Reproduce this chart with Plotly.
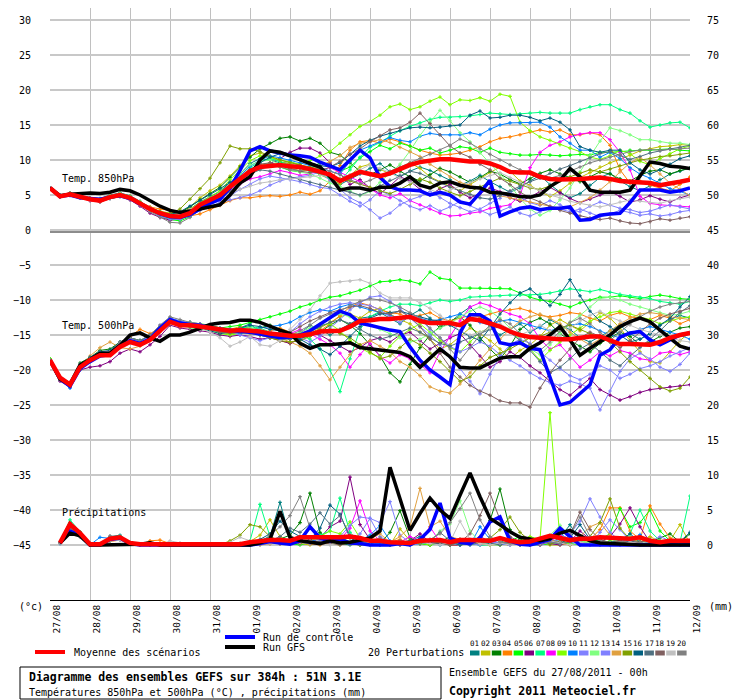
import plotly.graph_objects as go

# time axis (hours from 27/08 00h), 6-hourly
hours = list(range(0, 385, 6))
rain_hours = hours[1:]
day_hours = list(range(0, 385, 24))
day_labels = ['27/08', '28/08', '29/08', '30/08', '31/08', '01/09', '02/09', '03/09', '04/09',
              '05/09', '06/09', '07/09', '08/09', '09/09', '10/09', '11/09', '12/09']
left_ticks = list(range(-45, 31, 5))
right_ticks = list(range(0, 76, 5))
member_names = ['01', '02', '03', '04', '05', '06', '07', '08', '09', '10',
                '11', '12', '13', '14', '15', '16', '17', '18', '19', '20']
member_colors = ['#008080', '#C0C000', '#008000', '#FF8000', '#00FF00', '#800080', '#00FF80',
                 '#FF00FF', '#80FF00', '#0080FF', '#8080FF', '#80FF80', '#8080FF', '#E0A040',
                 '#80A000', '#006080', '#507080', '#806060', '#C0C0C0', '#808080']

# ---- temperature 850 hPa (degC)
t850_mean = [6.0,4.8,5.1,4.7, 4.4,4.2,4.7,5.0, 4.6,3.8,3.0,2.4, 2.0,1.9,2.4,3.6, 4.3,5.0,6.2,7.4,
             8.4,9.0,9.1,9.3, 9.1,9.0,8.7,8.3, 7.9,7.0,7.6,8.3, 8.0,7.7,8.1,8.7, 9.3,9.7,9.9,10.1,
             10.1,9.9,9.8,9.8, 9.5,9.0,8.3,8.2, 8.2,7.6,7.3,7.2, 7.2,7.3,7.4,7.5, 7.3,7.0,6.9,6.8,
             6.7,6.4,6.6,6.9, 7.2]
t850_ctrl = [6.0,4.8,5.0,4.6, 4.5,4.4,4.7,4.9, 4.5,3.8,3.0,2.3, 1.9,1.8,2.2,3.0, 3.8,4.4,6.0,8.5,
             11.3,11.9,11.3,11.0, 10.7,10.6,10.4,9.7, 9.1,8.6,10.0,11.4, 10.3,7.5,6.2,5.7, 5.7,5.6,5.0,5.4,
             5.0,4.0,3.7,5.3, 7.1,2.0,2.6,3.1, 3.3,2.9,3.1,3.1, 3.3,1.4,1.5,2.1, 2.3,2.4,3.9,5.7,
             5.7,5.7,5.4,5.6, 6.0]
t850_gfs = [6.0,4.9,5.1,5.2, 5.3,5.2,5.4,5.8, 5.6,5.0,4.2,3.4, 2.8,2.5,2.7,3.0, 3.2,3.6,5.0,6.7,
            7.6,10.0,11.3,11.1, 10.6,10.0,9.5,9.0, 7.6,5.7,6.0,6.0, 5.7,6.1,6.1,6.7, 7.6,6.4,6.0,6.7,
            6.9,6.4,6.1,6.0, 5.4,5.3,5.0,4.8, 4.7,5.0,6.2,7.1, 8.8,7.6,5.7,5.4, 5.4,5.4,5.7,7.6,
            9.7,9.5,9.1,9.0, 8.8]
t850_members = [
    [6.0,5.0,5.3,4.9, 4.6,4.5,5.0,5.3, 4.9,4.1,3.2,2.6, 2.3,2.4,3.0,4.0, 4.8,5.5,6.8,8.0, 9.5,10.2,10.0,9.6, 9.8,9.2,8.6,8.0, 7.4,6.5,7.2,8.0, 8.8,9.5,8.3,7.6, 8.4,9.0,8.5,7.8, 7.2,6.4,7.0,7.8, 6.9,6.2,5.4,6.0, 7.0,7.8,6.5,5.4, 4.6,5.2,6.4,7.5, 8.1,7.0,6.2,5.6, 6.3,7.2,8.0,8.4, 8.9],
    [6.0,4.7,5.0,4.8, 4.5,4.0,4.6,5.1, 4.8,4.0,3.2,2.7, 2.4,2.6,3.3,4.6, 5.6,6.4,7.7,9.2, 10.6,11.0,10.4,9.8, 9.4,9.0,8.6,7.9, 7.2,6.6,7.8,9.0, 9.4,8.7,8.0,8.9, 9.6,8.8,7.6,6.9, 6.2,5.6,6.5,7.4, 8.2,9.0,8.4,7.0, 6.4,5.5,4.8,5.6, 6.7,7.5,8.2,9.0, 9.6,10.1,10.7,11.3, 11.6,11.9,12.0,12.2, 12.1],
    [6.0,4.9,5.2,4.8, 4.4,4.3,4.8,5.1, 4.7,3.9,3.1,2.5, 2.2,2.5,3.3,4.3, 5.2,6.1,7.5,9.0, 10.4,11.6,12.4,13.1, 13.3,12.7,13.1,12.4, 11.1,10.7,9.6,8.4, 7.9,8.6,9.3,8.4, 7.6,7.0,7.9,8.8, 8.3,7.6,6.8,7.5, 8.4,8.0,7.2,6.6, 7.3,8.1,8.6,8.0, 7.4,6.9,7.6,8.3, 8.0,7.3,7.0,7.8, 8.4,8.6,8.0,8.5, 8.8],
    [6.0,4.8,5.2,4.8, 4.3,4.2,4.6,4.9, 4.6,3.9,3.3,3.0, 2.8,2.6,2.0,2.3, 2.9,3.5,4.2,4.6, 4.6,4.8,4.9,4.8, 5.0,5.4,5.1,5.6, 7.0,9.2,11.4,12.6, 12.8,12.4,13.0,12.6, 12.0,11.4,11.0,10.7, 10.8,11.0,11.4,11.9, 12.6,13.1,13.3,13.6, 14.0,14.3,14.0,14.3, 13.6,13.6,13.9,13.6, 12.1,8.6,6.7,7.0, 6.4,6.0,5.6,6.5, 7.6],
    [6.0,4.7,5.0,4.6, 4.3,4.1,4.5,4.8, 4.4,3.6,2.8,2.0, 1.5,1.3,1.9,2.9, 3.9,4.6,5.5,7.0, 8.3,9.2,9.6,9.0, 8.5,8.3,8.8,9.6, 9.4,8.4,9.0,10.3, 11.2,12.1,11.6,12.4, 12.0,11.4,11.7,11.0, 11.4,11.9,11.7,11.1, 11.7,11.1,10.9,10.7, 10.7,10.8,10.7,10.6, 10.7,10.8,10.7,11.1, 11.1,11.2,11.4,11.4, 11.4,11.5,11.6,11.4, 11.3],
    [6.0,4.9,5.0,4.6, 4.2,4.0,4.5,4.8, 4.3,3.4,2.4,1.8, 1.4,1.6,2.5,3.5, 4.6,5.0,6.0,7.2, 8.0,8.8,9.5,10.2, 11.1,11.7,11.7,11.0, 9.6,8.0,6.5,7.2, 6.0,5.2,6.3,7.6, 7.0,5.8,5.0,5.9, 6.5,5.4,4.6,5.2, 6.0,5.5,4.6,4.1, 4.7,5.5,6.1,5.3, 4.5,3.9,4.4,5.0, 5.5,4.8,4.0,4.3, 4.9,4.4,4.0,4.6, 5.0],
    [6.0,4.8,5.0,4.7, 4.4,4.1,4.6,4.9, 4.5,3.7,2.8,2.1, 1.6,1.5,2.2,3.1, 4.2,4.9,6.0,7.5, 8.9,9.8,10.2,9.8, 9.2,8.8,8.4,8.0, 7.3,7.0,8.6,10.4, 11.8,12.5,13.4,14.2, 14.8,15.3,15.8,16.1, 16.1,16.2,16.3,16.5, 16.7,16.6,16.5,16.6, 16.7,16.8,16.7,16.7, 16.7,17.2,17.6,17.9, 17.9,17.2,16.7,15.6, 14.7,15.0,15.3,15.4, 14.6],
    [6.0,4.8,5.1,4.8, 4.5,4.3,4.8,5.1, 4.6,3.8,3.0,2.3, 1.9,2.0,2.6,3.4, 4.2,4.8,5.8,6.6, 7.3,7.6,8.0,8.5, 8.2,7.8,8.0,8.6, 8.9,8.2,7.5,6.9, 5.9,5.0,4.6,5.2, 4.2,3.6,3.0,2.4, 2.0,2.1,2.4,2.6, 3.1,3.3,3.6,5.0, 8.9,11.1,12.1,12.6, 13.3,13.7,13.9,13.9, 12.9,11.1,8.6,4.8, 3.8,3.6,3.5,3.4, 3.3],
    [6.0,4.9,5.1,4.8, 4.5,4.3,4.8,5.2, 4.8,4.0,3.2,2.6, 2.3,2.4,3.0,3.9, 4.7,5.6,7.2,8.6, 9.9,10.6,10.4,10.0, 9.7,9.4,9.9,10.6, 11.2,12.4,13.6,14.8, 15.5,16.4,17.6,18.0, 17.2,17.6,18.4,19.0, 17.9,18.6,18.5,18.9, 18.4,19.4,19.1,15.4, 14.2,13.3,12.8,12.2, 11.7,11.2,10.4,10.1, 10.6,11.4,10.9,9.8, 9.3,10.2,10.9,11.6, 12.0],
    [6.0,4.8,5.0,4.7, 4.4,4.2,4.6,5.0, 4.7,3.9,3.0,2.5, 2.1,2.2,2.8,3.6, 4.4,5.2,6.4,7.8, 9.1,10.0,10.6,10.3, 10.0,9.6,9.2,9.0, 8.4,8.0,9.8,11.4, 12.0,12.6,13.2,12.8, 12.6,13.4,13.8,13.6, 13.6,13.6,13.9,13.6, 14.4,15.0,15.3,15.3, 15.3,15.4,14.7,13.3, 12.4,11.4,11.4,10.4, 11.1,10.2,8.9,8.0, 7.4,6.6,5.9,5.5, 5.0],
    [6.0,4.7,4.9,4.6, 4.3,4.1,4.5,4.8, 4.4,3.6,2.8,2.2, 1.8,1.7,2.0,2.8, 3.4,3.9,4.3,4.6, 5.0,5.6,6.4,7.0, 7.4,7.6,7.8,8.3, 7.0,5.8,4.6,3.9, 2.9,1.7,2.4,3.6, 4.3,4.8,5.5,4.6, 3.8,3.2,2.6,3.0, 3.8,4.5,5.4,4.7, 3.9,3.5,4.2,3.6, 2.9,2.6,3.4,4.0, 3.6,3.1,2.9,2.5, 2.7,3.2,3.6,3.3, 3.0],
    [6.0,4.8,5.1,4.9, 4.6,4.4,4.9,5.2, 4.8,4.0,3.1,2.4, 2.0,2.2,2.9,3.8, 4.6,5.3,6.6,8.0, 9.3,9.8,10.0,9.4, 8.6,8.3,8.0,7.4, 6.7,6.2,5.6,4.9, 5.5,6.8,8.0,9.4, 11.3,13.5,15.4,17.1, 15.6,13.9,12.6,11.0, 9.5,8.0,6.4,4.5, 3.0,2.1,2.8,4.3, 6.0,8.3,10.6,12.7, 14.6,14.2,13.6,12.9, 12.9,12.6,12.4,12.4, 12.2],
    [6.0,4.7,5.0,4.6, 4.3,4.1,4.6,4.9, 4.5,3.7,2.8,2.0, 1.6,1.5,2.1,3.0, 3.8,4.3,4.9,5.8, 6.5,7.3,7.7,7.5, 7.2,6.9,6.5,6.1, 5.9,5.0,4.1,3.4, 4.3,5.6,5.0,4.2, 3.4,2.9,3.5,2.7, 3.3,4.1,3.5,2.8, 2.2,2.7,3.3,2.4, 2.0,2.6,3.4,3.0, 2.6,3.0,2.4,1.9, 2.3,2.8,2.5,2.1, 2.3,2.0,2.2,2.6, 2.8],
    [6.0,4.9,5.2,4.9, 4.6,4.3,4.8,5.1, 4.7,3.9,3.1,2.6, 2.3,2.4,3.0,3.8, 4.5,5.2,6.2,7.4, 8.5,9.3,9.6,9.2, 8.8,8.5,8.6,9.1, 9.8,10.6,11.8,12.4, 12.6,12.9,12.5,11.8, 11.2,10.5,9.4,8.5, 7.6,6.8,6.4,5.9, 5.4,4.9,4.6,4.3, 4.0,3.6,3.4,3.1, 3.3,3.9,4.6,5.7, 6.9,8.3,9.6,10.4, 9.3,8.0,6.7,5.8, 4.9],
    [6.0,4.9,5.1,4.8, 4.5,4.3,4.7,5.0, 4.6,3.8,3.0,2.6, 2.3,3.0,4.4,5.9, 7.4,9.6,12.0,11.6, 11.6,11.2,10.5,10.0, 9.6,9.3,9.0,8.7, 8.0,7.3,7.0,6.6, 6.1,5.6,5.2,5.8, 6.5,7.3,6.8,6.0, 5.4,4.9,5.5,6.2, 6.8,7.4,7.0,6.5, 6.0,5.8,6.3,7.0, 7.6,8.1,8.6,8.3, 8.7,9.2,9.6,10.0, 10.2,10.5,10.6,10.8, 11.0],
    [6.0,4.8,5.0,4.7, 4.4,4.2,4.7,5.0, 4.6,3.8,3.0,2.5, 2.2,2.6,3.4,4.2, 5.0,5.9,6.8,7.3, 8.6,9.6,10.4,10.9, 10.8,10.2,9.6,9.2, 9.0,9.6,10.8,12.0, 12.8,13.4,13.8,14.2, 14.6,14.7,14.6,14.7, 14.9,15.0,16.4,17.0, 16.0,16.1,16.4,16.4, 16.1,15.6,16.0,15.4, 14.3,11.9,11.4,11.1, 11.4,11.4,9.6,8.6, 8.0,8.6,9.4,10.2, 10.6],
    [6.0,4.8,5.1,4.7, 4.4,4.2,4.7,5.0, 4.7,3.9,3.1,2.5, 2.1,2.0,2.6,3.5, 4.4,5.0,5.9,7.0, 8.0,8.6,8.4,8.0, 7.6,7.2,6.8,6.5, 6.1,5.7,5.4,5.0, 5.6,6.3,7.1,7.8, 8.4,8.1,7.5,6.8, 6.1,5.6,5.1,4.6, 4.4,4.9,5.6,6.3, 6.9,7.4,8.1,8.7, 9.2,9.8,10.3,10.9, 11.2,10.6,10.1,10.5, 11.0,11.3,11.6,11.8, 12.1],
    [6.0,4.9,5.1,4.8, 4.5,4.3,4.7,5.0, 4.6,3.8,3.0,2.4, 2.0,1.9,2.6,3.6, 4.4,5.0,6.0,7.4, 8.6,9.4,9.6,9.2, 8.8,8.4,8.2,8.4, 9.0,9.8,10.8,11.6, 12.6,13.5,14.3,14.6, 15.4,16.7,15.2,13.6, 12.0,11.0,10.4,9.4, 8.6,7.4,6.5,5.4, 4.6,4.0,3.3,2.8, 2.4,2.0,1.7,1.5, 1.7,1.3,1.0,0.9, 1.2,1.6,1.4,1.7, 1.9],
    [6.0,4.8,5.0,4.6, 4.3,4.1,4.6,4.9, 4.5,3.7,2.9,2.4, 2.1,2.3,2.9,3.6, 4.2,4.7,5.3,5.8, 6.3,6.7,6.9,7.2, 7.3,7.4,7.6,7.8, 7.6,7.2,7.9,8.6, 9.3,8.8,8.2,7.4, 6.8,6.3,5.8,5.2, 5.7,6.3,6.8,7.3, 7.8,8.2,7.5,6.8, 6.2,5.6,5.0,4.6, 4.1,3.8,3.5,3.3, 3.6,4.0,4.3,4.1, 3.9,3.8,4.2,4.5, 4.7],
    [6.0,4.9,5.1,4.7, 4.4,4.2,4.6,4.9, 4.4,3.6,2.6,1.8, 1.1,1.0,1.8,2.9, 3.8,4.6,5.5,6.6, 7.8,8.8,9.2,9.0, 8.6,8.5,8.7,8.9, 8.4,7.9,7.2,6.6, 7.1,7.8,8.4,9.0, 9.6,10.2,10.8,11.4, 12.1,13.0,12.4,11.6, 10.8,10.0,9.3,8.6, 8.2,7.8,7.4,7.8, 8.4,9.0,9.6,10.0, 10.4,10.8,11.2,11.4, 11.5,11.4,11.5,11.6, 11.7],
]

# ---- temperature 500 hPa (degC)
t500_mean = [-18.6,-21.1,-22.1,-19.6, -18.6,-17.9,-17.9,-16.7, -16.0,-16.4,-15.7,-14.3, -13.1,-13.6,-13.6,-13.8,
             -14.0,-14.3,-14.4,-14.3, -14.4,-14.5,-14.8,-15.0, -15.1,-15.1,-14.9,-14.5, -14.4,-14.4,-13.8,-13.0,
             -12.9,-12.7,-12.7,-12.6, -12.4,-13.0,-13.3,-13.3, -13.3,-13.6,-12.7,-12.9, -13.3,-13.8,-14.5,-15.0,
             -15.3,-15.4,-15.6,-15.6, -15.6,-15.4,-15.2,-15.2, -15.7,-16.3,-16.3,-16.3, -16.4,-16.0,-15.4,-15.0, -14.7]
t500_ctrl = [-18.6,-21.3,-22.3,-19.8, -18.8,-18.0,-17.8,-16.5, -15.8,-16.2,-15.6,-14.0, -12.8,-13.3,-13.5,-13.6,
             -14.0,-14.2,-14.3,-14.5, -14.6,-14.9,-15.2,-15.4, -15.3,-15.0,-14.4,-13.5, -12.6,-11.6,-12.1,-13.3,
             -13.6,-14.0,-14.3,-14.5, -16.7,-18.6,-20.0,-21.0, -22.1,-14.7,-12.1,-12.1, -13.0,-16.1,-16.4,-16.1,
             -16.9,-17.1,-21.0,-25.0, -24.6,-23.3,-22.1,-17.9, -17.1,-15.3,-14.7,-14.5, -15.7,-16.4,-15.7,-15.0, -14.7]
t500_gfs = [-18.6,-21.3,-22.0,-19.3, -18.5,-17.6,-17.6,-16.5, -15.0,-14.7,-15.4,-15.9, -15.0,-15.0,-14.6,-14.0,
            -13.5,-13.3,-13.2,-12.9, -12.9,-13.2,-13.8,-14.3, -14.8,-16.2,-16.9,-16.4, -16.4,-16.3,-16.1,-16.8,
            -17.0,-17.2,-17.3,-17.5, -18.1,-19.6,-18.3,-17.0, -18.1,-19.6,-19.7,-19.7, -19.0,-18.3,-18.1,-18.1,
            -16.9,-16.1,-15.0,-13.8, -15.7,-17.9,-16.9,-16.0, -15.0,-13.8,-13.1,-12.6, -13.1,-14.3,-15.4,-16.6, -17.0]
t500_members = [
    [-18.4,-21.0,-22.4,-19.4, -18.4,-17.6,-17.5,-16.2, -15.6,-16.0,-15.4,-14.0, -12.8,-13.3,-13.2,-13.6, -13.6,-14.0,-14.6,-14.0, -13.4,-14.6,-15.2,-14.6, -15.6,-14.8,-13.6,-14.2, -15.0,-14.2,-13.4,-12.6, -12.4,-11.8,-12.6,-13.4, -12.2,-11.4,-12.6,-14.0, -13.2,-12.0,-11.0,-12.4, -13.8,-15.0,-14.2,-13.4, -14.6,-13.8,-12.8,-13.6, -14.2,-15.4,-16.0,-15.2, -14.4,-13.6,-14.8,-15.6, -14.8,-13.6,-12.8,-12.2, -12.6],
    [-18.6,-21.2,-22.0,-19.2, -18.2,-17.4,-17.6,-16.4, -15.6,-16.2,-15.4,-14.2, -13.0,-13.4,-13.8,-14.0, -14.2,-14.6,-14.2,-13.8, -14.0,-14.6,-15.2,-15.8, -16.2,-15.4,-14.8,-14.0, -13.2,-12.4,-12.0,-12.6, -11.6,-11.2,-12.0,-12.8, -13.4,-14.6,-15.6,-17.0, -16.4,-15.2,-14.0,-14.8, -15.8,-17.0,-18.4,-17.2, -16.4,-15.2,-13.6,-12.8, -13.6,-14.4,-13.2,-11.8, -12.6,-14.0,-15.8,-17.4, -18.8,-19.0,-17.4,-15.8, -14.6],
    [-18.8,-21.4,-22.2,-19.0, -18.2,-17.2,-17.0,-16.0, -15.4,-15.8,-15.2,-13.8, -12.6,-13.2,-13.4,-13.6, -14.0,-14.4,-14.8,-14.6, -14.2,-14.0,-13.6,-14.4, -15.2,-15.6,-15.0,-14.6, -13.6,-12.8,-13.6,-14.8, -16.4,-18.0,-20.4,-21.7, -19.2,-16.8,-15.0,-13.8, -13.0,-12.4,-13.6,-15.4, -17.0,-18.4,-16.6,-14.2, -13.2,-12.6,-13.4,-14.8, -15.8,-16.6,-17.4,-16.2, -15.4,-14.6,-15.2,-16.4, -16.0,-15.2,-14.6,-14.0, -13.8],
    [-18.6,-21.0,-22.0,-19.6, -18.4,-17.6,-17.8,-16.6, -15.2,-14.2,-14.8,-14.0, -13.0,-13.6,-13.4,-13.8, -14.2,-14.6,-14.6,-14.2, -14.4,-14.8,-14.4,-14.0, -14.6,-15.0,-14.8,-14.4, -13.4,-12.2,-11.0,-10.4, -10.8,-11.4,-11.8,-12.0, -12.6,-12.2,-11.8,-12.6, -13.0,-12.6,-12.2,-12.4, -12.0,-11.6,-11.4,-11.2, -11.6,-12.2,-12.4,-12.2, -11.8,-12.0,-12.6,-13.0, -12.2,-11.8,-12.4,-12.6, -12.8,-12.2,-12.6,-13.4, -12.8],
    [-18.4,-21.2,-22.0,-19.4, -18.4,-17.8,-17.6,-16.4, -15.8,-16.0,-15.4,-14.0, -13.0,-13.4,-13.2,-13.4, -13.6,-14.0,-13.8,-13.6, -13.2,-12.8,-12.4,-12.0, -11.6,-11.0,-10.6,-10.0, -9.6,-9.4,-9.0,-8.6, -8.0,-7.4,-7.3,-7.1, -7.3,-7.7,-6.0,-6.9, -7.1,-8.3,-8.3,-8.3, -8.3,-8.3,-8.4,-9.0, -9.6,-10.0,-10.2,-10.6, -11.0,-10.4,-10.0,-9.6, -9.6,-9.4,-9.6,-9.8, -9.5,-9.3,-9.5,-9.8, -9.9],
    [-18.8,-21.6,-22.4,-20.0, -19.6,-19.4,-18.8,-17.6, -17.0,-17.4,-16.4,-15.2, -13.6,-14.0,-14.2,-14.4, -14.6,-15.0,-15.2,-15.0, -15.2,-15.6,-15.4,-15.8, -16.2,-15.6,-14.8,-15.0, -15.8,-16.6,-17.4,-16.8, -15.8,-15.4,-16.0,-15.0, -14.6,-15.8,-17.0,-16.2, -15.4,-14.8,-16.4,-18.0, -19.6,-18.8,-17.4,-18.2, -19.4,-20.4,-21.6,-22.8, -23.6,-22.4,-21.2,-22.8, -23.6,-24.3,-23.8,-23.2, -22.8,-22.6,-22.4,-22.3, -22.1],
    [-18.6,-21.2,-22.2,-19.6, -18.6,-17.8,-17.6,-16.4, -15.8,-16.2,-15.4,-14.2, -13.2,-13.6,-13.8,-14.0, -14.2,-14.4,-14.4,-14.0, -13.8,-14.0,-14.6,-15.4, -15.4,-15.0,-15.6,-17.0, -20.0,-23.1,-18.4,-14.2, -12.4,-11.6,-11.0,-10.6, -10.6,-10.8,-10.4,-10.0, -10.2,-10.0,-9.6,-9.5, -9.4,-9.4,-9.3,-9.3, -9.3,-9.2,-9.0,-8.7, -8.4,-8.6,-8.8,-8.5, -8.9,-9.2,-9.4,-9.6, -9.8,-10.2,-10.4,-10.6, -10.2],
    [-18.6,-21.0,-21.8,-19.4, -18.4,-17.6,-17.4,-16.2, -15.6,-16.0,-15.2,-13.8, -12.8,-13.2,-13.4,-13.6, -13.8,-14.2,-14.4,-14.2, -14.4,-14.6,-14.6,-15.0, -14.8,-14.2,-14.8,-15.6, -16.4,-17.6,-19.6,-17.8, -16.2,-18.1,-19.0,-17.8, -18.4,-19.2,-20.4,-17.4, -15.2,-13.0,-11.0,-10.4, -10.8,-11.4,-12.0,-12.4, -13.4,-15.6,-17.0,-16.4, -18.0,-19.6,-18.6,-17.4, -18.0,-17.2,-17.6,-18.4, -18.6,-17.6,-17.4,-17.8, -17.4],
    [-18.4,-21.0,-22.0,-19.6, -18.6,-17.8,-17.8,-16.6, -15.8,-16.2,-15.6,-14.2, -13.0,-13.4,-13.6,-14.0, -14.4,-14.8,-15.0,-14.8, -14.6,-15.0,-15.4,-15.6, -15.4,-15.2,-14.6,-13.6, -13.4,-14.4,-15.8,-16.8, -17.6,-18.2,-16.6,-15.2, -14.2,-13.4,-14.6,-15.8, -16.8,-17.4,-16.0,-14.6, -14.0,-13.6,-14.4,-15.6, -17.0,-18.6,-17.2,-16.0, -15.0,-14.0,-13.0,-12.4, -11.8,-11.6,-12.0,-12.4, -12.8,-13.4,-13.0,-12.6, -12.4],
    [-18.6,-21.4,-22.6,-20.0, -18.8,-17.8,-17.4,-16.2, -15.6,-16.0,-15.2,-13.8, -12.6,-13.0,-13.4,-13.8, -14.0,-14.2,-14.6,-14.8, -14.4,-14.0,-13.8,-13.6, -13.2,-12.4,-11.8,-11.4, -11.6,-11.0,-10.6,-11.0, -11.4,-11.8,-12.2,-12.6, -12.4,-12.6,-13.0,-12.8, -12.4,-12.0,-12.6,-13.2, -13.6,-13.0,-12.8,-13.2, -13.6,-14.0,-14.4,-14.0, -13.6,-13.4,-13.8,-14.4, -15.0,-15.4,-14.8,-14.2, -13.8,-14.2,-14.6,-15.0, -15.6],
    [-18.6,-21.0,-22.0,-19.4, -18.4,-17.6,-17.6,-16.4, -15.8,-16.2,-15.4,-14.0, -12.8,-13.2,-13.6,-13.4, -13.8,-14.0,-14.2,-14.4, -14.6,-14.4,-15.0,-15.4, -14.6,-13.4,-12.4,-11.6, -11.0,-10.6,-10.4,-10.6, -10.8,-11.4,-12.4,-13.2, -12.2,-12.6,-14.2,-15.4, -16.6,-17.4,-16.8,-16.0, -16.6,-17.8,-18.6,-19.4, -20.4,-21.2,-21.8,-22.2, -21.6,-22.0,-22.6,-25.7, -23.0,-20.2,-18.4,-17.6, -18.4,-19.6,-20.2,-19.2, -17.6],
    [-18.6,-21.2,-22.2,-19.8, -18.8,-18.0,-17.8,-16.6, -15.8,-16.4,-15.6,-14.4, -13.2,-13.6,-14.0,-14.2, -14.4,-14.6,-14.8,-14.4, -14.0,-14.2,-14.6,-15.0, -15.2,-14.6,-14.0,-13.4, -12.6,-12.0,-12.4,-13.0, -13.6,-14.2,-14.8,-15.4, -16.0,-15.6,-14.8,-14.0, -13.4,-12.4,-11.6,-11.0, -11.6,-12.6,-14.0,-15.6, -17.0,-17.8,-16.4,-14.8, -13.2,-12.2,-11.0,-9.8, -9.6,-10.0,-10.6,-11.0, -11.4,-11.8,-12.2,-12.0, -11.6],
    [-18.6,-21.0,-21.8,-19.2, -18.2,-17.4,-17.4,-16.2, -15.6,-16.0,-15.2,-13.6, -12.6,-13.0,-13.2,-13.4, -13.8,-14.2,-14.6,-15.0, -15.4,-15.8,-15.4,-15.0, -14.8,-15.4,-16.0,-15.2, -14.0,-12.8,-11.4,-10.4, -9.6,-9.4,-10.2,-11.2, -12.6,-13.8,-15.0,-16.4, -18.2,-19.8,-21.6,-23.4, -20.6,-18.0,-16.4,-15.6, -16.2,-17.4,-18.6,-19.8, -20.8,-21.4,-20.6,-19.4, -20.0,-21.2,-20.6,-19.8, -19.4,-18.8,-18.0,-17.4, -16.8],
    [-18.6,-21.4,-22.2,-19.4, -18.0,-16.8,-16.0,-16.8, -17.0,-16.6,-15.8,-14.6, -13.4,-13.8,-13.8,-14.0, -14.2,-14.4,-14.4,-14.2, -14.4,-14.8,-15.0,-15.4, -16.0,-16.6,-17.6,-19.4, -21.4,-19.6,-17.8,-16.4, -15.8,-16.6,-17.4,-18.8, -19.6,-20.8,-22.4,-23.0, -23.3,-22.0,-20.4,-18.6, -17.0,-15.6,-14.2,-13.0, -12.4,-12.0,-12.6,-13.4, -14.6,-15.6,-16.4,-15.6, -14.4,-13.4,-12.6,-12.0, -11.8,-12.0,-12.4,-12.6, -12.8],
    [-18.6,-21.2,-22.0,-19.6, -18.6,-17.8,-17.8,-16.6, -15.8,-16.2,-15.4,-14.2, -13.0,-13.6,-13.8,-14.0, -14.2,-14.6,-14.8,-14.6, -14.8,-15.0,-15.4,-15.8, -16.0,-15.8,-15.2,-14.6, -14.2,-14.8,-15.4,-16.4, -17.4,-18.4,-18.0,-16.8, -15.6,-16.4,-17.6,-18.8, -20.2,-21.6,-21.0,-19.4, -18.2,-17.6,-17.0,-16.2, -15.4,-15.2,-14.6,-14.0, -13.6,-14.2,-14.8,-15.4, -16.0,-17.4,-18.8,-20.0, -21.2,-22.4,-23.0,-22.6, -21.0],
    [-18.6,-21.2,-22.0,-19.4, -18.2,-17.4,-17.2,-16.0, -15.4,-15.8,-15.0,-13.8, -12.8,-13.2,-13.6,-14.0, -14.4,-14.8,-14.6,-14.0, -13.6,-13.8,-14.2,-14.4, -14.8,-15.6,-16.4,-17.0, -17.8,-16.6,-15.2,-13.8, -12.6,-12.0,-11.8,-11.6, -12.0,-12.4,-12.8,-13.0, -13.6,-14.4,-15.2,-15.8, -14.0,-12.0,-10.4,-9.0, -8.4,-9.6,-10.8,-9.2, -7.1,-9.4,-11.6,-13.0, -13.8,-15.0,-16.0,-15.6, -14.8,-13.6,-12.6,-11.0, -9.5],
    [-18.6,-21.0,-22.0,-19.6, -18.6,-17.8,-17.8,-16.4, -15.8,-16.2,-15.6,-14.2, -13.2,-13.6,-13.8,-14.0, -14.2,-14.4,-14.6,-14.4, -14.6,-14.8,-15.2,-15.6, -15.6,-15.2,-14.6,-13.8, -13.2,-12.8,-13.4,-14.2, -15.0,-15.6,-15.2,-14.6, -14.0,-14.6,-15.4,-16.2, -16.6,-16.0,-15.4,-14.8, -14.2,-13.8,-14.6,-15.8, -17.2,-18.8,-20.4,-19.6, -18.4,-17.0,-16.2,-17.4, -18.6,-19.4,-18.0,-16.8, -15.6,-14.4,-13.0,-11.8, -10.8],
    [-18.6,-21.2,-22.2,-19.8, -18.6,-17.8,-17.6,-16.4, -15.8,-16.2,-15.6,-14.2, -13.0,-13.4,-13.8,-14.0, -14.2,-14.6,-14.6,-14.4, -14.6,-15.0,-15.4,-15.2, -14.6,-13.8,-13.0,-12.4, -11.8,-11.4,-11.0,-10.8, -11.2,-11.8,-12.0,-11.6, -12.4,-13.8,-15.6,-17.6, -19.6,-21.0,-22.2,-23.0, -23.6,-24.4,-24.7,-24.7, -25.3,-22.6,-20.4,-18.6, -17.0,-15.4,-14.6,-15.2, -16.0,-16.8,-15.8,-14.6, -13.4,-12.6,-12.0,-11.6, -11.2],
    [-18.6,-21.0,-22.0,-19.4, -18.4,-17.6,-17.4,-16.2, -15.6,-16.0,-15.4,-14.0, -13.0,-13.4,-13.6,-14.0, -14.6,-15.4,-16.6,-16.0, -15.2,-16.4,-16.6,-15.8, -14.2,-12.8,-11.4,-9.4, -7.6,-7.4,-7.3,-7.1, -7.6,-9.0,-9.7,-9.7, -9.7,-10.4,-11.2,-12.2, -13.2,-14.4,-15.0,-14.6, -14.0,-13.4,-14.2,-15.0, -14.4,-13.6,-14.4,-15.2, -14.0,-13.0,-12.2,-11.6, -12.4,-13.0,-13.6,-14.2, -14.6,-15.0,-15.4,-15.8, -16.0],
    [-18.6,-21.2,-22.0,-19.6, -18.4,-17.6,-17.4,-16.0, -15.4,-15.8,-15.0,-13.6, -12.4,-12.8,-13.2,-13.4, -13.8,-14.2,-14.4,-14.0, -14.2,-14.6,-15.0,-15.2, -15.0,-14.4,-13.6,-12.6, -12.0,-11.6,-10.8,-10.2, -9.8,-10.0,-10.4,-11.0, -11.8,-12.6,-14.0,-15.4, -17.0,-18.6,-16.8,-15.0, -13.6,-12.8,-13.4,-14.8, -16.4,-17.2,-16.0,-14.4, -13.2,-12.6,-13.4,-14.6, -15.8,-14.6,-13.4,-12.4, -11.6,-11.0,-10.6,-10.4, -10.2],
]

# ---- precipitation (mm per 6h), from +6h
rain_mean = [0.3,3.0,1.7,0.1, 0.1,0.9,1.1,0.3, 0.1,0.1,0.1,0.1, 0.0,0.1,0.1,0.1, 0.1,0.1,0.1,0.4,
             0.6,0.7,0.7,0.6, 1.1,1.1,1.1,1.0, 1.1,1.2,1.0,0.6, 0.6,0.4,0.4,0.3, 0.6,0.6,0.7,0.4,
             0.7,0.7,0.6,0.6, 1.0,0.6,0.4,0.5, 0.9,1.3,1.0,0.7, 0.9,0.9,1.1,1.0, 0.9,0.9,1.1,0.6,
             0.4,0.6,0.6,0.6]
rain_ctrl = [0.3,2.0,1.4,0.0, 0.0,0.8,1.0,0.2, 0.0,0.0,0.0,0.0, 0.0,0.0,0.0,0.0, 0.0,0.0,0.0,0.0,
             0.2,0.5,0.3,0.1, 0.6,2.6,1.0,0.5, 0.8,0.3,0.2,0.0, 0.0,0.0,0.2,0.0, 0.8,2.2,6.0,1.0,
             0.4,0.2,1.0,3.3, 4.0,0.6,0.1,0.0, 0.4,0.8,2.4,1.2, 0.0,0.0,0.0,0.0, 0.0,0.0,0.0,0.0,
             0.0,0.0,0.0,0.0]
rain_gfs = [0.3,1.7,1.3,0.0, 0.0,0.0,0.0,0.0, 0.1,0.3,0.0,0.0, 0.0,0.0,0.0,0.0, 0.0,0.0,0.0,0.0,
            0.3,0.8,4.8,1.1, 0.6,0.4,0.2,0.6, 0.3,0.4,0.7,1.0, 2.0,11.1,6.6,2.1, 4.5,6.7,5.0,3.8,
            7.1,10.3,6.9,3.8, 2.9,1.9,1.1,0.9, 0.6,0.9,1.7,2.1, 1.3,0.6,0.3,0.2, 0.1,0.1,0.0,0.0,
            0.0,0.0,0.0,0.0]
rain_members = [
    [0.3,3.2,1.8,0.0, 0.0,1.2,1.4,0.3, 0.0,0.0,0.0,0.0, 0.0,0.0,0.0,0.0, 0.0,0.0,0.2,0.4, 0.6,1.2,6.1,1.0, 0.4,0.8,1.6,0.6, 0.2,0.0,0.3,0.5, 0.2,0.0,0.1,0.6, 1.2,0.4,0.0,0.3, 0.8,0.2,0.0,0.1, 0.4,0.9,0.2,0.0, 0.0,0.3,1.0,2.9, 0.6,0.2,0.0,0.4, 0.8,0.2,0.0,0.0, 0.1,0.3,0.0,0.0],
    [0.3,2.4,1.6,0.0, 0.0,0.6,0.8,0.1, 0.0,0.0,0.0,0.0, 0.0,0.0,0.0,0.0, 0.0,0.0,0.1,0.5, 1.4,3.6,1.2,0.4, 0.2,0.0,0.6,0.2, 0.0,0.3,0.8,0.2, 0.0,0.0,2.3,0.6, 0.2,0.0,0.4,0.0, 0.0,0.5,0.2,0.0, 0.1,0.0,0.3,0.6, 0.2,0.0,0.0,0.4, 1.0,0.3,0.0,0.2, 0.6,0.1,0.4,1.2, 0.5,0.6,2.9,0.2],
    [0.3,2.2,1.2,0.0, 0.0,0.8,0.9,0.2, 0.0,0.0,0.0,0.0, 0.0,0.0,0.0,0.0, 0.0,0.0,0.0,0.2, 0.5,0.3,0.8,1.4, 3.2,7.4,1.8,0.4, 0.2,0.6,0.3,0.0, 0.2,1.8,4.9,1.0, 0.3,0.0,0.4,1.2, 0.6,0.2,1.0,3.5, 8.0,2.2,0.8,0.2, 0.2,0.5,0.3,0.0, 0.4,0.2,0.8,0.3, 0.0,0.6,1.1,0.4, 1.0,1.6,0.4,1.6],
    [0.3,2.0,1.3,0.0, 0.0,0.5,0.7,0.1, 0.0,0.6,0.7,0.2, 0.0,0.0,0.0,0.0, 0.0,0.0,0.2,0.1, 0.3,0.2,0.5,0.8, 0.4,0.2,0.0,0.3, 0.6,0.2,0.0,0.1, 0.0,0.4,0.8,0.2, 0.3,0.7,0.2,0.0, 0.0,0.2,0.6,0.2, 0.0,0.3,0.1,0.0, 0.4,0.6,0.2,0.0, 0.3,0.8,2.2,5.3, 5.3,2.0,0.8,5.6, 3.0,1.0,0.3,0.6],
    [0.3,2.8,1.5,0.0, 0.0,1.0,1.1,0.2, 0.0,0.0,0.0,0.0, 0.0,0.0,0.0,0.0, 0.0,0.1,0.0,0.3, 0.4,0.9,0.5,0.2, 0.0,0.4,0.2,0.6, 1.2,0.4,0.0,0.2, 0.3,0.0,0.4,0.6, 0.2,0.0,0.3,0.5, 0.0,0.2,0.4,0.1, 0.0,0.6,1.2,0.3, 0.0,0.2,0.5,0.2, 0.4,0.3,0.8,1.6, 5.2,2.6,3.2,5.0, 2.0,0.6,0.2,0.4],
    [0.3,2.6,1.6,0.0, 0.0,0.7,0.9,0.2, 0.0,0.0,0.0,0.0, 0.0,0.0,0.0,0.0, 0.0,0.0,0.0,0.0, 0.2,0.4,0.2,0.3, 0.6,0.3,1.0,2.6, 3.4,9.7,2.9,0.8, 0.4,0.2,0.0,0.6, 1.6,0.4,0.2,0.0, 0.0,0.4,1.2,0.5, 0.2,0.0,0.3,0.6, 0.4,0.2,0.0,0.5, 2.0,0.8,0.4,1.2, 3.0,5.3,2.6,0.4, 0.2,0.0,0.6,0.3],
    [0.4,3.6,1.9,0.0, 0.0,1.1,1.3,0.3, 0.0,0.0,0.0,0.0, 0.0,0.0,0.0,0.0, 0.0,0.0,0.0,0.6, 5.8,1.2,0.4,0.6, 0.3,0.8,1.4,2.0, 6.7,1.8,0.4,0.2, 0.0,0.3,0.5,0.0, 0.2,0.4,0.0,0.3, 0.6,0.2,0.0,0.0, 0.2,0.5,0.0,0.3, 0.0,0.4,0.8,0.2, 0.0,0.3,0.6,0.2, 0.4,1.6,5.0,2.0, 0.6,0.2,0.4,7.0],
    [0.3,2.9,1.4,0.0, 0.0,0.9,1.2,0.2, 0.0,0.0,0.0,0.0, 0.0,0.0,0.0,0.0, 0.0,0.0,0.0,0.1, 0.2,0.5,0.3,0.2, 0.4,1.0,0.6,0.3, 0.8,2.4,6.3,2.0, 0.6,0.3,0.4,1.2, 0.6,2.6,0.4,0.2, 0.0,0.3,0.6,0.2, 0.4,0.2,0.0,0.3, 0.0,0.5,1.4,0.6, 0.2,0.0,0.3,0.4, 0.2,0.6,0.3,0.0, 0.0,0.2,0.4,0.3],
    [0.3,2.5,1.5,0.0, 0.0,0.6,0.8,0.1, 0.0,0.0,0.0,0.0, 0.0,0.0,0.0,0.0, 0.0,0.0,0.0,0.0, 0.2,0.6,0.3,0.4, 0.2,0.6,1.2,2.0, 1.6,3.3,1.0,0.4, 0.2,0.0,0.3,0.6, 0.3,0.0,0.6,0.2, 0.0,0.3,0.2,0.0, 0.4,0.2,0.6,1.2, 0.8,18.9,0.6,0.2, 0.0,0.3,0.2,0.6, 0.4,0.2,0.0,0.3, 0.6,0.2,0.4,0.2],
    [0.2,2.2,1.3,0.0, 1.1,1.0,0.8,0.2, 0.0,0.0,0.0,0.0, 0.0,0.0,0.0,0.0, 0.0,0.0,0.0,0.0, 0.1,0.3,0.6,0.4, 0.2,0.5,0.9,0.3, 0.4,0.2,0.6,1.4, 2.8,0.6,0.3,0.0, 0.2,0.6,0.3,0.0, 0.4,0.0,2.6,0.8, 0.2,0.0,0.4,0.3, 0.6,1.0,1.8,0.4, 0.0,0.2,0.6,0.3, 0.8,0.4,1.5,0.2, 0.0,0.3,0.2,0.0],
    [0.3,2.7,1.7,0.0, 0.0,0.8,1.0,0.2, 0.0,0.0,0.0,0.0, 0.0,0.0,0.0,0.0, 0.0,0.0,0.0,0.0, 0.2,0.3,0.5,0.2, 0.4,0.6,0.2,0.5, 1.2,2.8,4.0,3.8, 3.2,6.2,1.4,0.4, 0.2,0.5,0.0,0.3, 0.6,0.2,0.0,0.4, 0.3,0.0,0.5,0.2, 0.0,0.4,0.8,1.6, 3.4,6.6,4.0,1.8, 0.6,0.4,0.2,0.5, 1.2,0.6,0.3,0.4],
    [0.3,2.3,1.4,0.0, 0.0,0.7,0.8,0.1, 0.0,0.0,0.0,0.0, 0.0,0.0,0.0,0.0, 0.0,0.0,0.0,0.1, 0.3,0.6,0.4,0.2, 0.5,1.0,0.6,0.4, 0.2,0.6,0.4,0.0, 0.3,0.0,0.2,0.5, 0.8,0.4,2.0,3.0, 6.3,2.0,0.4,0.2, 0.2,0.6,0.3,0.0, 0.4,1.4,2.8,1.2, 0.6,0.3,0.0,0.4, 0.8,1.2,0.4,0.2, 0.0,0.4,0.3,0.6],
    [0.3,2.1,1.2,0.0, 0.0,0.6,0.7,0.1, 0.0,0.0,0.0,0.0, 0.0,0.0,0.0,0.0, 0.0,0.0,0.0,0.0, 0.0,0.2,0.4,0.2, 0.3,0.2,0.6,0.3, 0.5,0.4,1.6,3.8, 1.2,0.4,0.2,0.0, 0.2,0.4,0.6,0.2, 0.0,0.3,0.2,0.6, 0.2,0.0,0.4,0.2, 0.3,0.6,0.2,0.8, 0.4,0.0,1.8,3.6, 2.2,0.6,0.3,0.2, 0.4,0.2,0.0,0.3],
    [0.3,2.5,1.4,0.0, 0.0,0.8,0.9,0.2, 0.0,0.0,0.0,0.0, 0.0,0.0,0.0,0.0, 0.0,0.0,0.0,0.0, 0.0,0.2,0.3,0.5, 0.2,0.4,0.2,0.6, 0.3,0.4,0.2,0.8, 1.6,0.4,1.2,2.6, 8.1,2.6,3.4,1.2, 0.8,0.4,0.2,0.0, 0.3,0.6,0.2,0.0, 0.4,0.8,0.3,0.6, 1.2,2.6,3.2,1.4, 0.6,0.3,0.8,0.4, 0.2,0.6,0.3,0.2],
    [0.3,2.4,1.3,0.0, 0.0,0.6,0.8,0.2, 0.0,0.0,0.0,0.0, 0.0,0.0,0.0,0.0, 0.0,0.6,1.4,2.9, 2.6,1.2,0.6,0.4, 0.3,0.6,0.2,0.4, 0.6,0.2,0.0,0.3, 0.4,0.0,0.6,0.4, 0.2,0.6,0.3,0.0, 0.4,0.3,0.6,1.0, 2.2,4.0,1.8,0.6, 0.6,0.2,0.4,0.8, 0.6,1.2,3.2,6.6, 2.4,0.8,0.4,0.6, 0.3,0.2,0.6,0.4],
    [0.3,2.8,1.6,0.0, 0.0,0.9,1.0,0.2, 0.0,0.0,0.0,0.0, 0.0,0.0,0.0,0.0, 0.0,0.0,0.0,0.3, 0.8,1.6,3.4,2.0, 1.2,0.8,2.4,5.7, 4.4,1.0,0.3,0.2, 0.0,0.4,0.2,0.6, 0.8,0.3,0.2,0.4, 0.0,0.3,0.6,0.2, 0.2,0.4,0.0,0.3, 0.6,0.4,0.2,1.0, 2.9,0.8,0.2,0.4, 0.6,1.6,0.4,0.2, 0.0,0.3,0.5,1.8],
    [0.3,2.6,1.5,0.0, 0.0,0.8,0.9,0.2, 0.0,0.0,0.0,0.0, 0.0,0.0,0.0,0.0, 0.0,0.0,0.0,0.0, 0.2,0.6,1.2,2.4, 1.8,3.0,4.6,3.0, 4.2,1.4,0.6,0.2, 0.0,0.3,0.6,0.2, 0.4,0.6,1.8,0.6, 0.2,0.0,0.4,0.3, 0.0,0.6,0.2,0.0, 0.3,0.5,0.2,0.4, 1.0,0.6,0.3,0.0, 0.2,0.6,0.3,0.0, 0.4,0.2,0.0,0.2],
    [0.3,2.4,1.5,0.0, 0.0,0.7,0.9,0.2, 0.0,0.0,0.0,0.0, 0.0,0.0,0.0,0.0, 0.0,0.0,0.0,0.0, 0.2,0.4,0.2,0.4, 0.3,0.6,0.4,0.2, 0.0,0.4,0.6,0.3, 0.5,0.2,0.0,0.4, 0.6,0.2,0.3,0.0, 0.4,1.6,4.2,7.4, 3.6,1.2,0.4,0.2, 0.0,0.6,0.4,1.4, 4.7,2.2,0.8,0.3, 0.6,0.2,0.4,0.8, 0.4,0.2,0.3,0.0],
    [0.2,2.0,1.1,0.0, 0.0,0.6,0.7,0.1, 0.0,0.0,0.0,0.6, 0.3,0.0,0.0,0.0, 0.0,0.4,1.1,0.6, 0.2,0.3,0.6,0.2, 0.4,0.6,0.2,0.0, 0.3,0.6,0.2,0.4, 0.0,0.2,0.5,0.3, 0.6,0.2,0.0,0.4, 3.4,0.8,0.2,0.0, 0.3,0.0,0.2,0.4, 0.2,0.6,0.3,0.0, 0.4,0.2,0.6,0.3, 0.0,0.4,0.2,0.6, 0.3,0.0,0.2,0.4],
    [0.3,2.7,1.8,0.0, 0.0,1.3,1.1,0.3, 0.0,0.0,0.0,0.0, 0.0,0.0,0.0,0.0, 0.0,0.0,0.0,0.2, 0.4,1.4,2.6,4.2, 6.9,2.4,1.0,0.6, 0.4,0.2,0.0,0.6, 1.0,0.3,0.6,0.2, 0.4,0.8,1.6,3.2, 5.2,7.4,3.6,1.2, 0.4,0.2,0.0,0.3, 0.6,0.4,0.2,1.4, 4.0,1.2,0.6,0.2, 0.4,0.8,0.3,0.0, 0.2,0.4,0.0,0.3],
]

for row in [t850_mean, t850_ctrl, t850_gfs, t500_mean, t500_ctrl, t500_gfs] + t850_members + t500_members:
    assert len(row) == len(hours), len(row)
for row in [rain_mean, rain_ctrl, rain_gfs] + rain_members:
    assert len(row) == len(rain_hours), len(row)

MONO = 'DejaVu Sans Mono'
fig = go.Figure()


def spaghetti(x, members, axis):
    for name, color, vals in zip(member_names, member_colors, members):
        fig.add_trace(go.Scatter(x=x, y=vals, name=name, yaxis=axis, mode='lines+markers',
                                 line=dict(color=color, width=1),
                                 marker=dict(symbol='cross', size=3, color=color),
                                 hoverinfo='skip'))


def main_runs(x, ctrl, gfs, mean, axis):
    fig.add_trace(go.Scatter(x=x, y=ctrl, yaxis=axis, mode='lines', line=dict(color='#0000FF', width=3.5),
                             hoverinfo='skip'))
    fig.add_trace(go.Scatter(x=x, y=gfs, yaxis=axis, mode='lines', line=dict(color='#000000', width=3.5),
                             hoverinfo='skip'))
    fig.add_trace(go.Scatter(x=x, y=mean, yaxis=axis, mode='lines', line=dict(color='#FF0000', width=4.5),
                             hoverinfo='skip'))


spaghetti(hours, t850_members, 'y')
spaghetti(hours, t500_members, 'y')
main_runs(hours, t850_ctrl, t850_gfs, t850_mean, 'y')
main_runs(hours, t500_ctrl, t500_gfs, t500_mean, 'y')
spaghetti(rain_hours, rain_members, 'y2')
main_runs(rain_hours, rain_ctrl, rain_gfs, rain_mean, 'y2')

# The page sits 8px in from the window corner, so the figure is laid out 8px up/left of the
# target picture. Helpers take positions in the target picture's pixels.
# plot area: target x 50..690, y 8..600  (figure 732 x 692)
def fx(px):
    return (px - 50) / 640.0


def fy(py):
    return (600 - py) / 592.0


shapes = []
annots = []


def text(px, py, s, size=10, anchor='left'):
    annots.append(dict(x=fx(px), y=fy(py), xref='paper', yref='paper', text=s, showarrow=False,
                       xanchor=anchor, yanchor='middle', font=dict(family=MONO, size=size, color='black')))


def hline(x0, x1, py, color, width):
    shapes.append(dict(type='line', xref='paper', yref='paper', x0=fx(x0), x1=fx(x1), y0=fy(py), y1=fy(py),
                       line=dict(color=color, width=width)))


# separator between the 850 and 500 hPa panels
shapes.append(dict(type='line', xref='x', yref='y', x0=0, x1=384, y0=-0.3, y1=-0.3, layer='between',
                   line=dict(color='#8C8C8C', width=2)))

# panel labels
for lbl, val in [('Temp. 850hPa', 7.3), ('Temp. 500hPa', -13.6), ('Précipitations', -40.3)]:
    annots.append(dict(x=6, y=val, xref='x', yref='y', text=lbl, showarrow=False, xanchor='left',
                       yanchor='middle', font=dict(family=MONO, size=10, color='black')))

text(17, 606, '(°c)')
text(707, 606, '(mm)')

# legend
hline(35, 65, 652, '#FF0000', 4)
text(72, 652, 'Moyenne des scénarios')
hline(225, 255, 637, '#0000FF', 4)
text(261, 637, 'Run de contrôle')
hline(225, 255, 647, '#000000', 4)
text(261, 647, 'Run GFS')
text(366, 652, '20 Perturbations')
for j, (name, color) in enumerate(zip(member_names, member_colors)):
    x0 = 470 + j * 10.9
    shapes.append(dict(type='rect', xref='paper', yref='paper', x0=fx(x0), x1=fx(x0 + 9.5),
                       y0=fy(655.5), y1=fy(650.5), fillcolor=color, line=dict(width=0)))
    text(x0 + 4.75, 643, name, size=7.5, anchor='center')

# title box
shapes.append(dict(type='rect', xref='paper', yref='paper', x0=fx(20), x1=fx(441), y0=fy(699), y1=fy(667),
                   line=dict(color='black', width=1)))
text(27, 677, '<b>Diagramme des ensembles GEFS sur 384h : 51N 3.1E</b>', size=11.5)
text(27, 692, 'Températures 850hPa et 500hPa (°C) , précipitations (mm)')
text(447, 672, 'Ensemble GEFS du 27/08/2011 - 00h')
text(447, 691, '<b>Copyright 2011 Meteociel.fr</b>', size=11.5)

y_top = (230 - 8) / 7.0
y_bottom = (230 - 600) / 7.0

fig.update_layout(
    width=732, height=692, autosize=False,
    margin=dict(l=42, r=50, t=0, b=100, pad=0),
    paper_bgcolor='white', plot_bgcolor='white',
    showlegend=False,
    font=dict(family=MONO, size=10, color='black'),
    shapes=shapes, annotations=annots,
    xaxis=dict(range=[0, 384], tickvals=day_hours, ticktext=day_labels, tickangle=-90,
               showgrid=True, gridcolor='#C0C0C0', gridwidth=1, zeroline=False,
               showline=True, linecolor='black', linewidth=1, ticks='',
               ticklabelshift=7, ticklabelstandoff=0,
               tickfont=dict(family=MONO, size=9.5, color='black')),
    yaxis=dict(range=[y_bottom, y_top], tickvals=left_ticks, showgrid=True, gridcolor='#C8C8C8',
               gridwidth=2, zeroline=False, showline=False, ticks='', ticklabelstandoff=18,
               tickfont=dict(family=MONO, size=10, color='black')),
    yaxis2=dict(range=[y_bottom + 45, y_top + 45], tickvals=right_ticks, overlaying='y', side='right',
                showgrid=False, zeroline=False, showline=False, ticks='', ticklabelstandoff=16,
                tickfont=dict(family=MONO, size=10, color='black')),
)

fig.write_html("out.html")
